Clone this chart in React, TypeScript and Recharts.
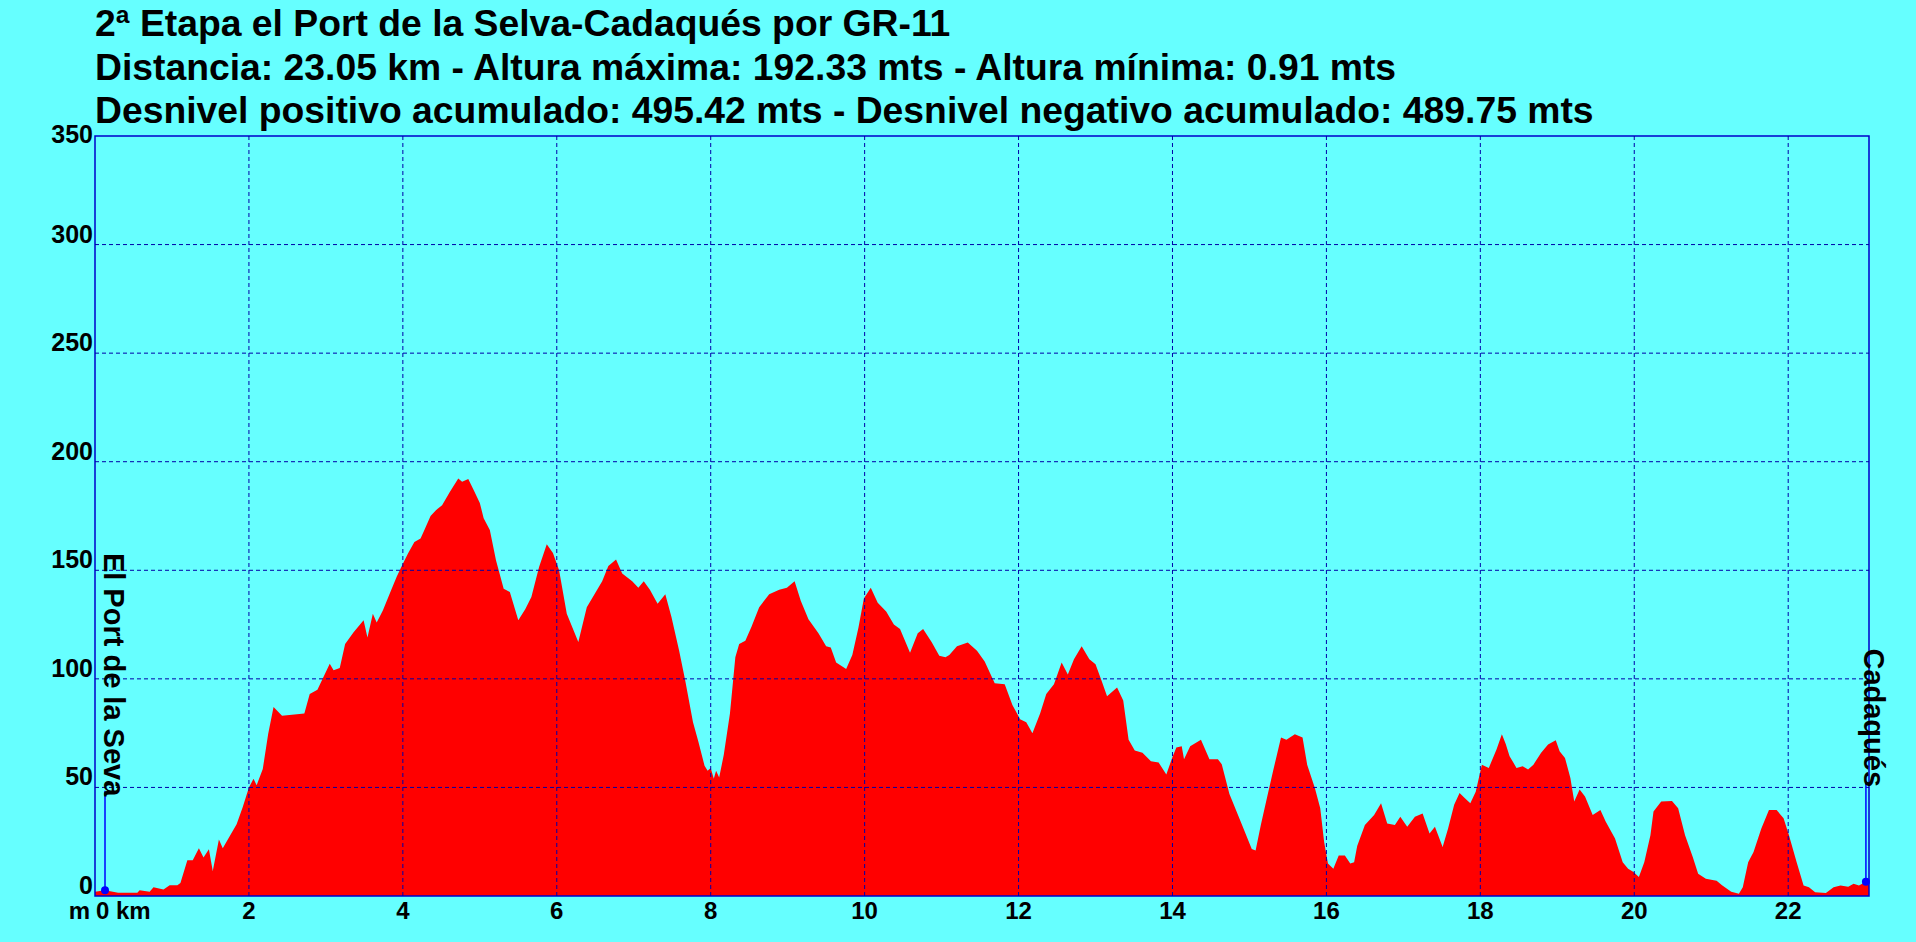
import React from 'react'
import {
  AreaChart,
  Area,
  XAxis,
  YAxis,
  ReferenceLine,
  ReferenceDot,
  ReferenceArea,
} from 'recharts'

// profile: distance (km) / elevation (m)
const distKm = [
  0, 0.13, 0.3, 0.55, 0.58, 0.71, 0.76, 0.89, 0.97, 1.07, 1.11, 1.2, 1.27, 1.35, 1.41, 1.48,
  1.53, 1.61, 1.66, 1.84, 1.92, 2.0, 2.06, 2.1, 2.18, 2.25, 2.32, 2.43, 2.72, 2.79, 2.89, 2.97,
  3.05, 3.1, 3.18, 3.25, 3.36, 3.49, 3.54, 3.61, 3.66, 3.74, 3.85, 3.92, 4.0, 4.07, 4.15, 4.23,
  4.28, 4.36, 4.43, 4.51, 4.61, 4.72, 4.77, 4.85, 4.92, 5.0, 5.05, 5.13, 5.21, 5.31, 5.39, 5.5,
  5.59, 5.67, 5.77, 5.87, 5.95, 6.03, 6.13, 6.28, 6.39, 6.49, 6.59, 6.67, 6.77, 6.85, 6.98, 7.06,
  7.13, 7.21, 7.31, 7.41, 7.49, 7.59, 7.67, 7.77, 7.84, 7.92, 7.96, 8.0, 8.04, 8.07, 8.11, 8.17,
  8.25, 8.32, 8.37, 8.45, 8.53, 8.63, 8.76, 8.89, 8.99, 9.09, 9.17, 9.27, 9.4, 9.5, 9.56, 9.63,
  9.76, 9.84, 9.92, 9.99, 10.08, 10.17, 10.28, 10.38, 10.46, 10.59, 10.69, 10.76, 10.87, 10.97,
  11.05, 11.1, 11.2, 11.34, 11.46, 11.56, 11.69, 11.82, 11.92, 12.02, 12.1, 12.18, 12.28, 12.36,
  12.46, 12.56, 12.64, 12.72, 12.82, 12.92, 13.0, 13.08, 13.15, 13.28, 13.36, 13.43, 13.51, 13.61,
  13.72, 13.82, 13.92, 14.0, 14.05, 14.12, 14.15, 14.23, 14.37, 14.48, 14.59, 14.64, 14.74, 14.9,
  15.03, 15.08, 15.15, 15.23, 15.31, 15.41, 15.48, 15.59, 15.69, 15.75, 15.85, 15.92, 15.97, 16.02,
  16.09, 16.16, 16.24, 16.31, 16.36, 16.4, 16.5, 16.62, 16.71, 16.79, 16.89, 16.96, 17.05, 17.15,
  17.25, 17.34, 17.41, 17.51, 17.58, 17.66, 17.73, 17.8, 17.87, 17.94, 18.02, 18.11, 18.21, 18.28,
  18.33, 18.38, 18.47, 18.55, 18.62, 18.69, 18.79, 18.88, 18.98, 19.03, 19.1, 19.17, 19.22, 19.29,
  19.36, 19.46, 19.56, 19.63, 19.75, 19.85, 19.92, 19.99, 20.06, 20.13, 20.21, 20.25, 20.35, 20.49,
  20.57, 20.66, 20.76, 20.83, 20.93, 21.07, 21.14, 21.26, 21.36, 21.41, 21.48, 21.55, 21.65, 21.75,
  21.85, 21.94, 22.01, 22.11, 22.2, 22.27, 22.35, 22.49, 22.59, 22.68, 22.78, 22.85, 22.92, 23.01,
  23.05,
]
const elevM = [
  2, 2.6, 1.5, 1.5, 2.6, 2, 4, 3, 5, 5, 6, 16.5, 16.5, 22, 17.7, 21.5,
  11.5, 26, 22, 33, 41, 50, 54, 51, 58.5, 74.6, 87, 83, 84, 93, 95, 101,
  107, 104, 105, 116, 121.5, 127, 119, 130, 126, 131.5, 141, 147, 153, 158, 163, 164.6,
  168.5, 175, 177.7, 180, 186, 192.3, 190.8, 192, 187, 181, 174, 168.5, 154.6, 141.5, 140, 127,
  132, 137.7, 151.5, 162, 158, 150, 130, 117, 133, 139, 145, 152, 155, 148.5, 145, 142,
  145, 141, 134.6, 139, 128.5, 113, 99, 80, 71, 60, 57.7, 59, 54, 57.7, 54.6, 65,
  84, 110, 116, 117.5, 124, 133, 139, 141, 142, 145, 136, 127.5, 121, 115, 114.4, 107.5,
  104.5, 111, 123.6, 137, 142, 135, 131, 125, 123, 112, 121, 123, 117, 110.6,
  110, 111, 115, 116.7, 113, 108, 98, 97.5, 88, 81.4, 80, 75, 84, 93,
  97.5, 107.5, 102, 109, 115, 109, 106.7, 99, 92, 96, 90, 72, 67, 66,
  62, 61.5, 56, 64, 68.4, 69, 63, 69, 72, 63, 63, 60.7, 47, 33,
  21.6, 21, 33, 45.6, 58, 73, 72, 74.5, 73, 60.5, 49.7, 40.4, 25, 15,
  12.5, 18.7, 18.7, 15, 15.6, 23, 32.7, 37.3, 42.7, 33.4, 32.7, 36.5, 31.9, 36.5,
  38, 28.8, 31.9, 22.6, 31, 42, 47.4, 45, 42.7, 48, 60.5, 59, 67.5, 74.5,
  70, 64.4, 59, 59.8, 58.2, 60.5, 66, 69.8, 71.7, 66.7, 63.6, 54.3, 43.5, 49,
  45.8, 37.3, 39.6, 34.2, 26.5, 15.6, 12.5, 11, 8.7, 15.6, 28, 38.9, 43.5, 43.8,
  40.4, 28, 18, 10.2, 7.9, 7, 5, 2, 1, 4, 15.6, 20.3, 31, 39.6,
  39.6, 35.8, 28, 15.6, 4.8, 4, 1.7, 1.4, 4, 4.8, 4.3, 5.6, 4.8, 6.6,
  6.3,
]

const xTicks = [0, 2, 4, 6, 8, 10, 12, 14, 16, 18, 20, 22]
const yTicks = [0, 50, 100, 150, 200, 250, 300, 350]
const gridX = [2, 4, 6, 8, 10, 12, 14, 16, 18, 20, 22]
const gridY = [50, 100, 150, 200, 250, 300]

const titleLines = [
  '2ª Etapa el Port de la Selva-Cadaqués por GR-11',
  'Distancia: 23.05 km - Altura máxima: 192.33 mts - Altura mínima: 0.91 mts',
  'Desnivel positivo acumulado: 495.42 mts - Desnivel negativo acumulado: 489.75 mts',
]

// waypoints: dot position, top of marker line, where the rotated name starts
const startPoint = { name: 'El Port de la Seva', km: 0.13, elev: 2.6, lineTop: 48.5, textKm: 0.12, textTop: 158 }
const endPoint = { name: 'Cadaqués', km: 23.01, elev: 6.6, lineTop: 52, textKm: 22.98, textTop: 114 }

const data = distKm.map((d, i) => ({ km: d, elev: elevM[i] }))

const FONT = "'Liberation Sans', Arial, Helvetica, sans-serif"
const BG = '#66FFFF'
const GRID = '#0000A8'
const BORDER = '#0000CC'

function XTick({ x, y, payload }: any) {
  const common = { fontFamily: FONT, fontWeight: 700, fontSize: 24, fill: '#000' }
  if (payload.value === 0) {
    return (
      <g>
        <text x={x - 5} y={y} dy="0.71em" textAnchor="end" {...common}>m</text>
        <text x={x + 1} y={y} dy="0.71em" textAnchor="start" {...common}>0 km</text>
      </g>
    )
  }
  return (
    <text x={x} y={y} dy="0.71em" textAnchor="middle" {...common}>
      {payload.value}
    </text>
  )
}

function YTick({ x, y, payload }: any) {
  const off = payload.value === 350 ? 7 : -2
  return (
    <text
      x={x}
      y={y + off}
      textAnchor="end"
      fontFamily={FONT}
      fontWeight={700}
      fontSize={25}
      fill="#000"
    >
      {payload.value}
    </text>
  )
}

function placeLabel(name: string) {
  return (p: any) => (
    <text
      transform={`translate(${p.cx},${p.cy}) rotate(90)`}
      fontFamily={FONT}
      fontWeight={700}
      fontSize={29}
      fill="#000"
    >
      {name}
    </text>
  )
}

export default function App() {
  return (
    <div
      style={{
        position: 'fixed',
        left: 0,
        top: 0,
        width: 1916,
        height: 942,
        background: BG,
      }}
    >
      <AreaChart
        width={1916}
        height={942}
        data={data}
        margin={{ top: 136, right: 47, bottom: 0, left: 0 }}
      >
        <XAxis
          dataKey="km"
          type="number"
          domain={[0, 23.05]}
          ticks={xTicks}
          axisLine={false}
          tickLine={false}
          tickSize={0}
          tickMargin={6}
          height={46}
          tick={<XTick />}
          interval={0}
        />
        <YAxis
          type="number"
          domain={[0, 350]}
          ticks={yTicks}
          axisLine={false}
          tickLine={false}
          tickSize={0}
          tickMargin={2}
          width={95}
          tick={<YTick />}
          interval={0}
        />
        <Area
          type="linear"
          dataKey="elev"
          stroke="none"
          fill="#FF0000"
          fillOpacity={1}
          baseValue={0}
          isAnimationActive={false}
          dot={false}
          activeDot={false}
        />
        {gridX.map((v) => (
          <ReferenceLine key={'gx' + v} x={v} stroke={GRID} strokeDasharray="4 3" strokeWidth={1} />
        ))}
        {gridY.map((v) => (
          <ReferenceLine key={'gy' + v} y={v} stroke={GRID} strokeDasharray="4 3" strokeWidth={1} />
        ))}
        <ReferenceArea
          x1={0}
          x2={23.05}
          y1={0}
          y2={350}
          fill="none"
          fillOpacity={0}
          stroke={BORDER}
          strokeWidth={1.5}
        />
        {[startPoint, endPoint].map((p) => (
          <ReferenceLine
            key={'l' + p.name}
            segment={[
              { x: p.km, y: p.elev },
              { x: p.km, y: p.lineTop },
            ]}
            stroke="#0000FF"
            strokeWidth={1.5}
          />
        ))}
        {[startPoint, endPoint].map((p) => (
          <ReferenceDot key={'d' + p.name} x={p.km} y={p.elev} r={4} fill="#0000FF" stroke="none" />
        ))}
        {[startPoint, endPoint].map((p) => (
          <ReferenceDot
            key={'t' + p.name}
            x={p.textKm}
            y={p.textTop}
            shape={placeLabel(p.name)}
          />
        ))}
      </AreaChart>
      <svg
        width={1916}
        height={140}
        style={{ position: 'absolute', left: 0, top: 0, pointerEvents: 'none' }}
      >
        {titleLines.map((t, i) => (
          <text
            key={i}
            x={95}
            y={36 + i * 43.5}
            fontFamily={FONT}
            fontWeight={700}
            fontSize={37.3}
            fill="#000"
          >
            {t}
          </text>
        ))}
      </svg>
    </div>
  )
}
